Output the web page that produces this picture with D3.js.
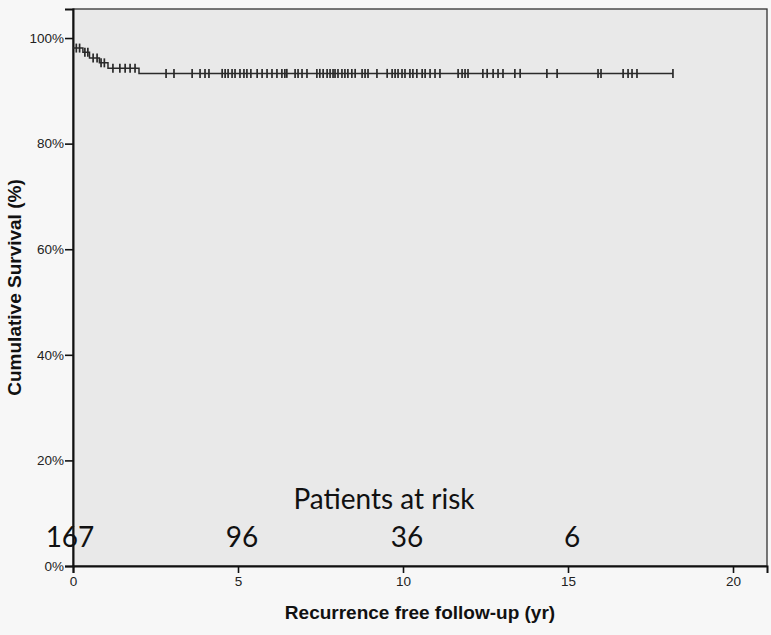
<!DOCTYPE html>
<html lang="en">
<head>
<meta charset="UTF-8">
<title>Recurrence free survival</title>
<style>
  body { margin: 0; background: #f7f7f7; }
  svg .axis-title { font-family: "Liberation Sans", Arial, sans-serif; font-size: 19px; font-weight: bold; fill: #111; }
  svg .risk { font-family: Lato, "Open Sans", sans-serif; fill: #111; }
</style>
</head>
<body>
<div id="chart"></div>
<script src="https://cdn.jsdelivr.net/npm/d3@7"></script>
<script>
// step points of the Kaplan-Meier curve (years, %)
const stepTimes = [0, 0.3, 0.5, 0.8, 1.06, 2.0];
const stepSurv = [98.1, 97.3, 96.2, 95.3, 94.3, 93.3];
const lastTime = 18.18;

// censored observations (years)
const censorTimes = [
  0.1, 0.2, 0.36, 0.45, 0.61, 0.73, 0.85, 0.95, 1.21, 1.42, 1.58, 1.73, 1.88,
  2.82, 3.06, 3.61, 3.85, 4.0, 4.12, 4.52, 4.61, 4.7, 4.82, 4.91, 5.06, 5.18, 5.27, 5.39,
  5.58, 5.73, 5.88, 6.03, 6.18, 6.33, 6.42, 6.48, 6.73, 6.82, 6.94, 7.09, 7.39, 7.48,
  7.58, 7.7, 7.79, 7.88, 7.94, 8.03, 8.15, 8.24, 8.33, 8.45, 8.55, 8.76, 8.85, 8.94,
  9.21, 9.52, 9.67, 9.76, 9.85, 9.97, 10.06, 10.21, 10.3, 10.42, 10.58, 10.67, 10.82,
  10.97, 11.12, 11.67, 11.79, 11.88, 11.97, 12.42, 12.55, 12.73, 12.88, 13.03, 13.39,
  13.55, 14.36, 14.67, 15.91, 16.0, 16.67, 16.82, 16.94, 17.09, 18.18
];

// patients at risk
const riskTimes = [0, 5, 10, 15];
const riskCounts = [167, 96, 36, 6];

const xTicks = [0, 5, 10, 15, 20];
const yTicks = [0, 20, 40, 60, 80, 100];

const width = 771, height = 635;
const margin = { top: 9, right: 4, bottom: 69, left: 73 };

const svg = d3.select("#chart").append("svg")
    .attr("width", width).attr("height", height);

const x = d3.scaleLinear().domain([0, 21.03]).range([margin.left, width - margin.right]);
const y = d3.scaleLinear().domain([0, 105.5]).range([height - margin.bottom, margin.top]);

// plot background and frame
svg.append("rect")
    .attr("x", x(0)).attr("y", y(105.5))
    .attr("width", x(21.03) - x(0)).attr("height", y(0) - y(105.5))
    .attr("fill", "#e9e9e9")
    .attr("stroke", "#333").attr("stroke-width", 1.3);

// axes
const yAxis = svg.append("g")
    .attr("transform", `translate(${x(0)},0)`)
    .call(d3.axisLeft(y).tickValues(yTicks).tickFormat(d => d + "%").tickSize(8).tickPadding(1));
yAxis.select(".domain").attr("stroke", "#111").attr("stroke-width", 2);
yAxis.selectAll(".tick line").attr("stroke", "#111").attr("stroke-width", 1.6);

const xAxis = svg.append("g")
    .attr("transform", `translate(0,${y(0)})`)
    .call(d3.axisBottom(x).tickValues(xTicks).tickSize(7).tickPadding(3));
xAxis.select(".domain").attr("stroke", "#111").attr("stroke-width", 2);
xAxis.selectAll(".tick line").attr("stroke", "#111").attr("stroke-width", 1.6);

svg.selectAll(".tick text")
    .style("font-family", "'Liberation Sans', Arial, sans-serif")
    .style("font-size", "13.5px")
    .style("fill", "#222");

// survival curve
function survAt(t) {
  let s = stepSurv[0];
  stepTimes.forEach((st, i) => { if (t >= st) s = stepSurv[i]; });
  return s;
}
const pts = stepTimes.map((t, i) => [t, stepSurv[i]]);
pts.push([lastTime, survAt(lastTime)]);

svg.append("path")
    .datum(pts)
    .attr("fill", "none")
    .attr("stroke", "#2a2a2a")
    .attr("stroke-width", 1.5)
    .attr("d", d3.line().x(d => x(d[0])).y(d => y(d[1])).curve(d3.curveStepAfter));

svg.append("g").selectAll("line")
    .data(censorTimes)
    .join("line")
    .attr("x1", d => x(d)).attr("x2", d => x(d))
    .attr("y1", d => y(survAt(d)) - 4.5).attr("y2", d => y(survAt(d)) + 4.5)
    .attr("stroke", "#2a2a2a").attr("stroke-width", 1.7);

// patients at risk
svg.append("text")
    .attr("class", "risk")
    .attr("x", 384).attr("y", 509)
    .attr("text-anchor", "middle")
    .attr("font-size", 28)
    .text("Patients at risk");

svg.append("g").selectAll("text")
    .data(riskTimes)
    .join("text")
    .attr("class", "risk")
    .attr("x", (d, i) => x(d) + (i === 0 ? -3 : 4))
    .attr("y", 547)
    .attr("text-anchor", "middle")
    .attr("font-size", 28)
    .text((d, i) => riskCounts[i]);

// axis titles
svg.append("text")
    .attr("class", "axis-title")
    .attr("x", (x(0) + x(21.03)) / 2).attr("y", 619)
    .attr("text-anchor", "middle")
    .text("Recurrence free follow-up (yr)");

svg.append("text")
    .attr("class", "axis-title")
    .attr("transform", `translate(21,${(y(0) + y(105.5)) / 2}) rotate(-90)`)
    .attr("text-anchor", "middle")
    .text("Cumulative Survival (%)");
</script>
</body>
</html>
